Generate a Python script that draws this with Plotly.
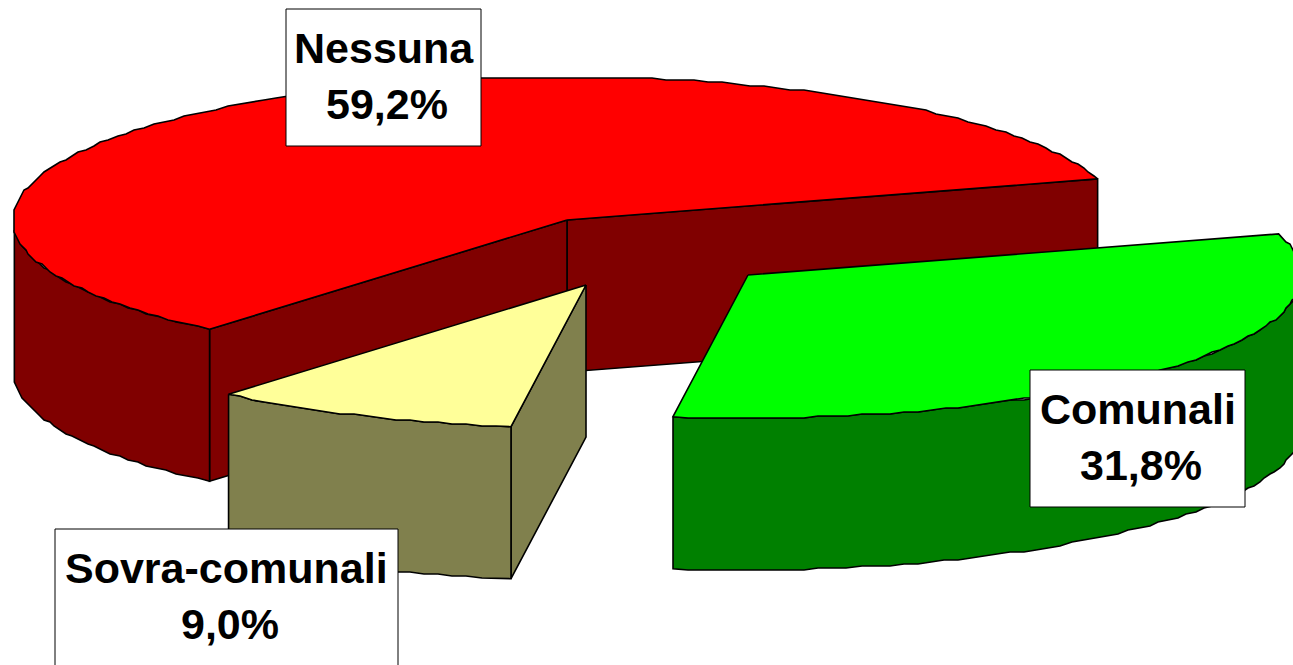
import numpy as np
import plotly.graph_objects as go

# Data
categories = ["Nessuna", "Sovra-comunali", "Comunali"]
shares = [59.2, 9.0, 31.8]
share_labels = ["59,2%", "9,0%", "31,8%"]

# Style / layout
top_colors = ["#FF0000", "#FFFF99", "#00FF00"]
side_colors = ["#800000", "#80804D", "#008000"]
centers = [(567, 220), (586, 285), (748, 275)]
boxes = [(286, 9, 481, 146), (55, 529, 398, 668), (1030, 370, 1245, 507)]
RX, RY, DEPTH = 554, 143, 152
START = 16.7
GRID = 2  # the original outline is drawn on a coarse grid, which makes it slightly jagged
W, H = 1293, 665

# Slice angles follow from the shares
sweeps = [s / sum(shares) * 360 for s in shares]
starts = [START + sum(sweeps[:i]) for i in range(len(sweeps))]
ends = [a + b for a, b in zip(starts, sweeps)]


def rim(center, a0, a1, step=1.5):
    n = max(2, int(abs(a1 - a0) / step) + 1)
    t = np.radians(np.linspace(a0, a1, n))
    x = center[0] + RX * np.cos(t)
    y = center[1] - RY * np.sin(t)
    xs = np.round(x / GRID) * GRID
    ys = np.round(y / GRID) * GRID
    xs[0], xs[-1], ys[0], ys[-1] = x[0], x[-1], y[0], y[-1]
    return xs, ys


def face(fig, xs, ys, color):
    fig.add_trace(go.Scatter(
        x=list(xs) + [xs[0]], y=list(ys) + [ys[0]], mode="lines", fill="toself",
        fillcolor=color, line=dict(color="black", width=1.6), hoverinfo="skip",
        showlegend=False))


def outer_wall(fig, center, a0, a1, color):
    x, y = rim(center, a0, a1)
    xs = np.concatenate([x, x[::-1]])
    ys = np.concatenate([y, (y + DEPTH)[::-1]])
    face(fig, xs, ys, color)


def cut_wall(fig, center, a, color):
    t = np.radians(a)
    x = center[0] + RX * np.cos(t)
    y = center[1] - RY * np.sin(t)
    xs = [center[0], x, x, center[0]]
    ys = [center[1], y, y + DEPTH, center[1] + DEPTH]
    face(fig, xs, ys, color)


def top(fig, center, a0, a1, color):
    x, y = rim(center, a0, a1)
    face(fig, [center[0], *x], [center[1], *y], color)


fig = go.Figure()

# Nessuna: back-cut wall, front-cut wall, outer wall, top
c = centers[0]
cut_wall(fig, c, starts[0], side_colors[0])
cut_wall(fig, c, ends[0], side_colors[0])
outer_wall(fig, c, 184, ends[0], side_colors[0])
top(fig, c, starts[0], ends[0], top_colors[0])

# Comunali: outer wall, top
c = centers[2]
outer_wall(fig, c, starts[2], 360, side_colors[2])
top(fig, c, starts[2], ends[2], top_colors[2])

# Sovra-comunali: cut wall, outer wall, top
c = centers[1]
cut_wall(fig, c, ends[1], side_colors[1])
outer_wall(fig, c, starts[1], ends[1], side_colors[1])
top(fig, c, starts[1], ends[1], top_colors[1])

# Labels
for name, pct, (x0, y0, x1, y1) in zip(categories, share_labels, boxes):
    fig.add_shape(type="rect", x0=x0, y0=y0, x1=x1, y1=y1, fillcolor="white",
                  line=dict(color="black", width=1), layer="above")
    cx = (x0 + x1) / 2
    fig.add_annotation(x=cx, y=y0 + 39, text=f"<b>{name}</b>", showarrow=False,
                       font=dict(family="Liberation Sans", size=43, color="black"))
    fig.add_annotation(x=cx + 3, y=y0 + 95, text=f"<b>{pct}</b>", showarrow=False,
                       font=dict(family="Liberation Sans", size=43, color="black"))

fig.update_layout(
    width=W, height=H, margin=dict(l=0, r=0, t=0, b=0),
    paper_bgcolor="white", plot_bgcolor="white", showlegend=False,
    xaxis=dict(range=[0, W], visible=False, fixedrange=True),
    yaxis=dict(range=[H, 0], visible=False, fixedrange=True),
)
fig.write_html("out.html", config={"displayModeBar": False},
               post_script="document.body.style.margin='0';document.body.style.overflow='hidden';")
